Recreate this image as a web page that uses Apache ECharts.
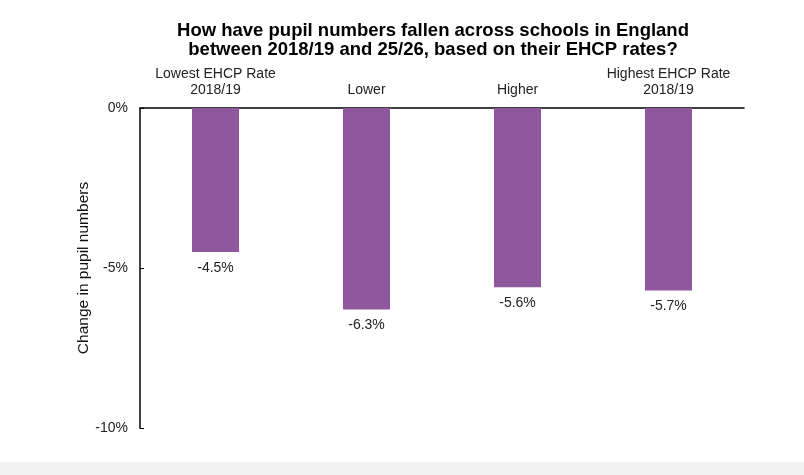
<!DOCTYPE html>
<html>
<head>
<meta charset="utf-8">
<script src="https://cdn.jsdelivr.net/npm/echarts@6/dist/echarts.min.js"></script>
<style>
  html, body { margin: 0; padding: 0; background: #fff; }
  #chart { width: 804px; height: 475px; }
</style>
</head>
<body>
<div id="chart"></div>
<script>
var groups = ['Lowest EHCP Rate\n2018/19', 'Lower', 'Higher', 'Highest EHCP Rate\n2018/19']
var change = [-4.5, -6.3, -5.6, -5.7]
var yTicks = [0, -5, -10]

var font = '"Liberation Sans", Arial, sans-serif'
var chart = echarts.init(document.getElementById('chart'))

chart.setOption({
  backgroundColor: '#fff',
  animation: false,
  title: {
    text: 'How have pupil numbers fallen across schools in England\nbetween 2018/19 and 25/26, based on their EHCP rates?',
    left: 428,
    top: 16.5,
    textAlign: 'center',
    textStyle: {
      fontFamily: font,
      fontSize: 18.5,
      fontWeight: 'bold',
      color: '#000',
      lineHeight: 19
    }
  },
  grid: {
    left: 140,
    right: 60,
    top: 108,
    bottom: 47
  },
  xAxis: {
    type: 'category',
    position: 'top',
    data: groups,
    axisLine: { lineStyle: { color: '#000', width: 1.5 } },
    axisTick: { show: false },
    axisLabel: {
      interval: 0,
      margin: 10,
      color: '#222',
      fontFamily: font,
      fontSize: 14,
      lineHeight: 16
    }
  },
  yAxis: {
    type: 'value',
    min: -10,
    max: 0,
    interval: 5,
    name: 'Change in pupil numbers',
    nameLocation: 'middle',
    nameGap: 48,
    nameMoveOverlap: false,
    nameTextStyle: {
      color: '#111',
      fontFamily: font,
      fontSize: 15.5
    },
    axisLine: { show: true, lineStyle: { color: '#000', width: 1.5 } },
    axisTick: { show: true, inside: true, length: 4, lineStyle: { color: '#000' } },
    splitLine: { show: false },
    axisLabel: {
      margin: 12,
      color: '#222',
      fontFamily: font,
      fontSize: 14,
      formatter: function(v) {
        return yTicks.indexOf(v) >= 0 ? v + '%' : ''
      }
    }
  },
  series: [{
    type: 'bar',
    data: change,
    barWidth: 47,
    itemStyle: { color: '#8F579D' },
    label: {
      show: true,
      position: 'bottom',
      distance: 9,
      color: '#222',
      fontFamily: font,
      fontSize: 14,
      formatter: function(p) {
        return p.value.toFixed(1) + '%'
      }
    }
  }],
  graphic: [{
    type: 'rect',
    left: 0,
    bottom: 0,
    shape: { width: 804, height: 13 },
    style: { fill: '#f2f2f2' },
    silent: true
  }]
})
</script>
</body>
</html>
